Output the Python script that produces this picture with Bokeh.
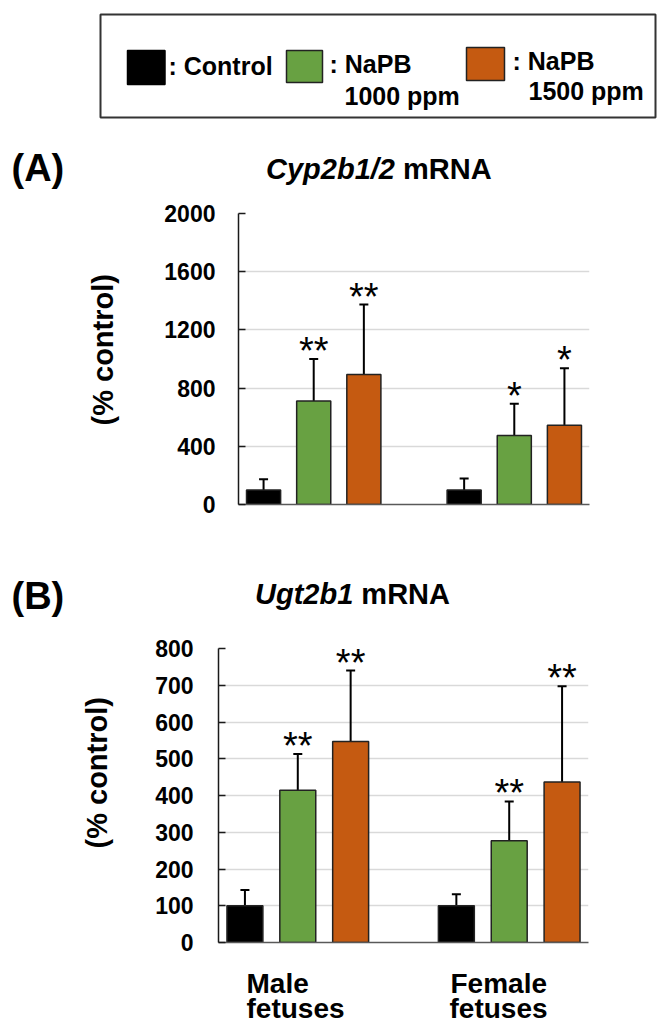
from bokeh.plotting import figure
from bokeh.models import Range1d, Whisker, TeeHead, ColumnDataSource, FixedTicker, Title
from bokeh.embed import file_html
from bokeh.resources import INLINE
from bokeh.core.properties import value

# ---------------- data ----------------
groups = ["Male fetuses", "Female fetuses"]
treatments = ["Control", "NaPB 1000 ppm", "NaPB 1500 ppm"]
colors = ["#000000", "#68a142", "#c55a11"]

cyp_mean = [100, 711, 894, 100, 475, 544]
cyp_upper = [173, 1000, 1374, 178, 693, 937]
cyp_sig = ["", "**", "**", "", "*", "*"]
cyp_ticks = [0, 400, 800, 1200, 1600, 2000]

ugt_mean = [100, 414, 547, 100, 277, 437]
ugt_upper = [143, 513, 740, 131, 384, 697]
ugt_sig = ["", "**", "**", "", "**", "**"]
ugt_ticks = [0, 100, 200, 300, 400, 500, 600, 700, 800]

FONT = "Liberation Sans"
W = 662
group_centers = [0, 4]
offsets = [-1, 0, 1]
xs = [g + o for g in group_centers for o in offsets]


def text_fig(top, h, items):
    """A figure used only as a canvas for free-standing texts (page coordinates)."""
    f = figure(frame_width=W, frame_height=h,
               min_border_left=0, min_border_right=0, min_border_top=0, min_border_bottom=0,
               x_range=Range1d(0, W), y_range=Range1d(top + h, top),
               x_axis_type=None, y_axis_type=None,
               output_backend="svg", toolbar_location=None)
    f.grid.visible = False
    f.outline_line_color = None
    for (txt, x, y, size, style) in items:
        f.text(x=[x], y=[y], text=[txt], text_font=value(FONT), text_font_size=size,
               text_font_style=style, text_align="left", text_baseline="middle",
               text_color="black")
    return f


def make_panel(fig_top, fig_h, frame_left, frame_top, frame_w, frame_h, ymax, ticks,
               means, uppers, sig, standoff, lab_standoff, lab_offset):
    bt = frame_top - fig_top
    p = figure(frame_width=frame_w, frame_height=frame_h,
               min_border_left=frame_left, min_border_right=W - frame_left - frame_w,
               min_border_top=bt, min_border_bottom=fig_h - bt - frame_h,
               x_range=Range1d(-1.5, 5.5), y_range=Range1d(0, ymax),
               output_backend="svg", toolbar_location=None)
    p.outline_line_color = None
    p.xgrid.visible = False
    p.ygrid.ticker = FixedTicker(ticks=ticks)
    p.ygrid.grid_line_color = "#d9d9d9"
    p.ygrid.grid_line_width = 1.5
    p.yaxis.ticker = FixedTicker(ticks=ticks)
    p.yaxis.minor_tick_line_color = None
    p.yaxis.major_tick_in = 7
    p.yaxis.major_tick_out = 0
    p.yaxis.major_tick_line_color = "#1a1a1a"
    p.yaxis.major_tick_line_width = 1.5
    p.yaxis.axis_line_color = "#1a1a1a"
    p.yaxis.axis_line_width = 1.5
    p.yaxis.major_label_standoff = standoff
    p.yaxis.major_label_text_font = FONT
    p.yaxis.major_label_text_font_style = "bold"
    p.yaxis.major_label_text_font_size = "23px"
    p.yaxis.major_label_text_color = "black"
    p.xaxis.ticker = FixedTicker(ticks=[])
    p.xaxis.minor_tick_line_color = None
    p.xaxis.axis_line_color = "#595959"
    p.xaxis.axis_line_width = 1.5

    p.add_layout(Title(text="(% control)", align="left", offset=lab_offset,
                       standoff=lab_standoff, text_font=FONT, text_font_size="29px",
                       text_font_style="bold", text_color="black"), "left")

    src = ColumnDataSource(dict(x=xs, top=means, upper=uppers,
                                color=colors * 2, sig=sig))
    p.vbar(x="x", top="top", width=0.68, fill_color="color",
           line_color="#222222", line_width=1.5, source=src)
    p.add_layout(Whisker(base="x", lower="top", upper="upper", source=src,
                         dimension="height", line_width=2, line_color="black",
                         upper_head=TeeHead(size=9, line_width=2, line_color="black"),
                         lower_head=None))
    p.text(x="x", y="upper", text="sig", source=src, text_align="center",
           text_baseline="alphabetic", y_offset=-8, text_font=value(FONT),
           text_font_size="38px", text_color="black")
    return p


WIDTHS = {"C": .722, "y": .556, "p": .611, "2": .556, "b": .611, "1": .556,
          "/": .278, "U": .722, "g": .611, "t": .333}


def len_em(s):
    return sum(WIDTHS.get(c, .556) for c in s)


# ---------------- legend ----------------
leg = figure(frame_width=555, frame_height=103, min_border_left=100, min_border_right=7,
             min_border_top=14, min_border_bottom=11,
             x_range=Range1d(0, 555), y_range=Range1d(103, 0),
             x_axis_type=None, y_axis_type=None,
             output_backend="svg", toolbar_location=None)
leg.grid.visible = False
leg.outline_line_color = "#333333"
leg.outline_line_width = 2
leg.rect(x=[45.75, 204, 385], y=[53, 52, 49.5], width=[37.5, 36, 38], height=[34, 32, 33],
         fill_color=colors, line_color=["#000000", "#222222", "#222222"], line_width=1.5)
leg.text(x=[68, 229, 244, 412, 428], y=[51, 49, 81, 46, 76],
         text=[": " + treatments[0], ": NaPB", "1000 ppm", ": NaPB", "1500 ppm"],
         text_font=value(FONT), text_font_style="bold", text_font_size="25px",
         text_align="left", text_baseline="middle", text_color="black")

# ---------------- headers / panels / footer ----------------
gA, gB = "Cyp2b1/2", "Ugt2b1"
headA = text_fig(128, 62, [("(A)", 11, 167, "38px", "bold"),
                           (gA, 265.5, 168, "29px", "bold italic"),
                           ("mRNA", 265.5 + (len_em(gA) + 0.278) * 29, 168, "29px", "bold")])
pa = make_panel(190, 370, 238, 213, 351, 291, 2000, cyp_ticks, cyp_mean, cyp_upper, cyp_sig,
                23, 85, 79)
headB = text_fig(560, 68, [("(B)", 11, 595, "38px", "bold"),
                           (gB, 254.5, 593, "29px", "bold italic"),
                           ("mRNA", 254.5 + (len_em(gB) + 0.278) * 29, 593, "29px", "bold")])
pb = make_panel(628, 330, 218, 648, 370, 294, 800, ugt_ticks, ugt_mean, ugt_upper, ugt_sig,
                25, 80, 94)
male, female = groups[0].split(" "), groups[1].split(" ")
foot = text_fig(958, 67, [(male[0], 246, 983, "28px", "bold"),
                          (male[1], 246, 1008, "28px", "bold"),
                          (female[0], 450, 983, "28px", "bold"),
                          (female[1], 449, 1008, "28px", "bold")])

open("out.html", "w").write(file_html([leg, headA, pa, headB, pb, foot], INLINE))
